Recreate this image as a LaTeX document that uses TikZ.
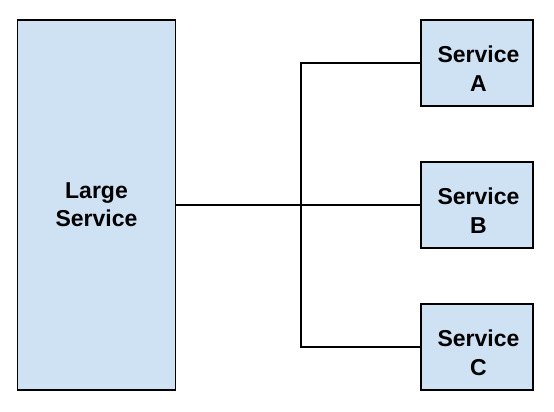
\documentclass[tikz,border=0pt]{standalone}
\usepackage{fontspec}
\setmainfont{Liberation Sans}
\definecolor{boxblue}{HTML}{CFE2F3}
\begin{document}
\begin{tikzpicture}[x=1pt,y=-1pt,
  box/.style={draw=black,line width=1.6pt,fill=boxblue,inner sep=0pt},
  lbl/.style={inner sep=0pt,font=\fontsize{23}{29}\selectfont\bfseries,align=center},
  conn/.style={draw=black,line width=1.6pt}]
\useasboundingbox (0,0) rectangle (554,412);
\node[box,minimum width=158pt,minimum height=370.5pt,font=\fontsize{23}{28}\selectfont\bfseries,align=center] (L) at (96.5,205) {Large\\Service};
\node[box,minimum width=112pt,minimum height=86pt] (A) at (477,63) {};
\node[box,minimum width=112pt,minimum height=86pt] (B) at (477,205) {};
\node[box,minimum width=112pt,minimum height=86pt] (C) at (477,347) {};
\node[lbl] (At) at ([xshift=1.5pt,yshift=-6pt]A.center) {Service\\A};
\node[lbl] (Bt) at ([xshift=1.5pt,yshift=-6pt]B.center) {Service\\B};
\node[lbl] (Ct) at ([xshift=1.5pt,yshift=-6pt]C.center) {Service\\C};
\coordinate (J) at (301,205);
\draw[conn] (L.east) -- (B.west);
\draw[conn] (A.west) -| (J) |- (C.west);
\end{tikzpicture}
\end{document}
